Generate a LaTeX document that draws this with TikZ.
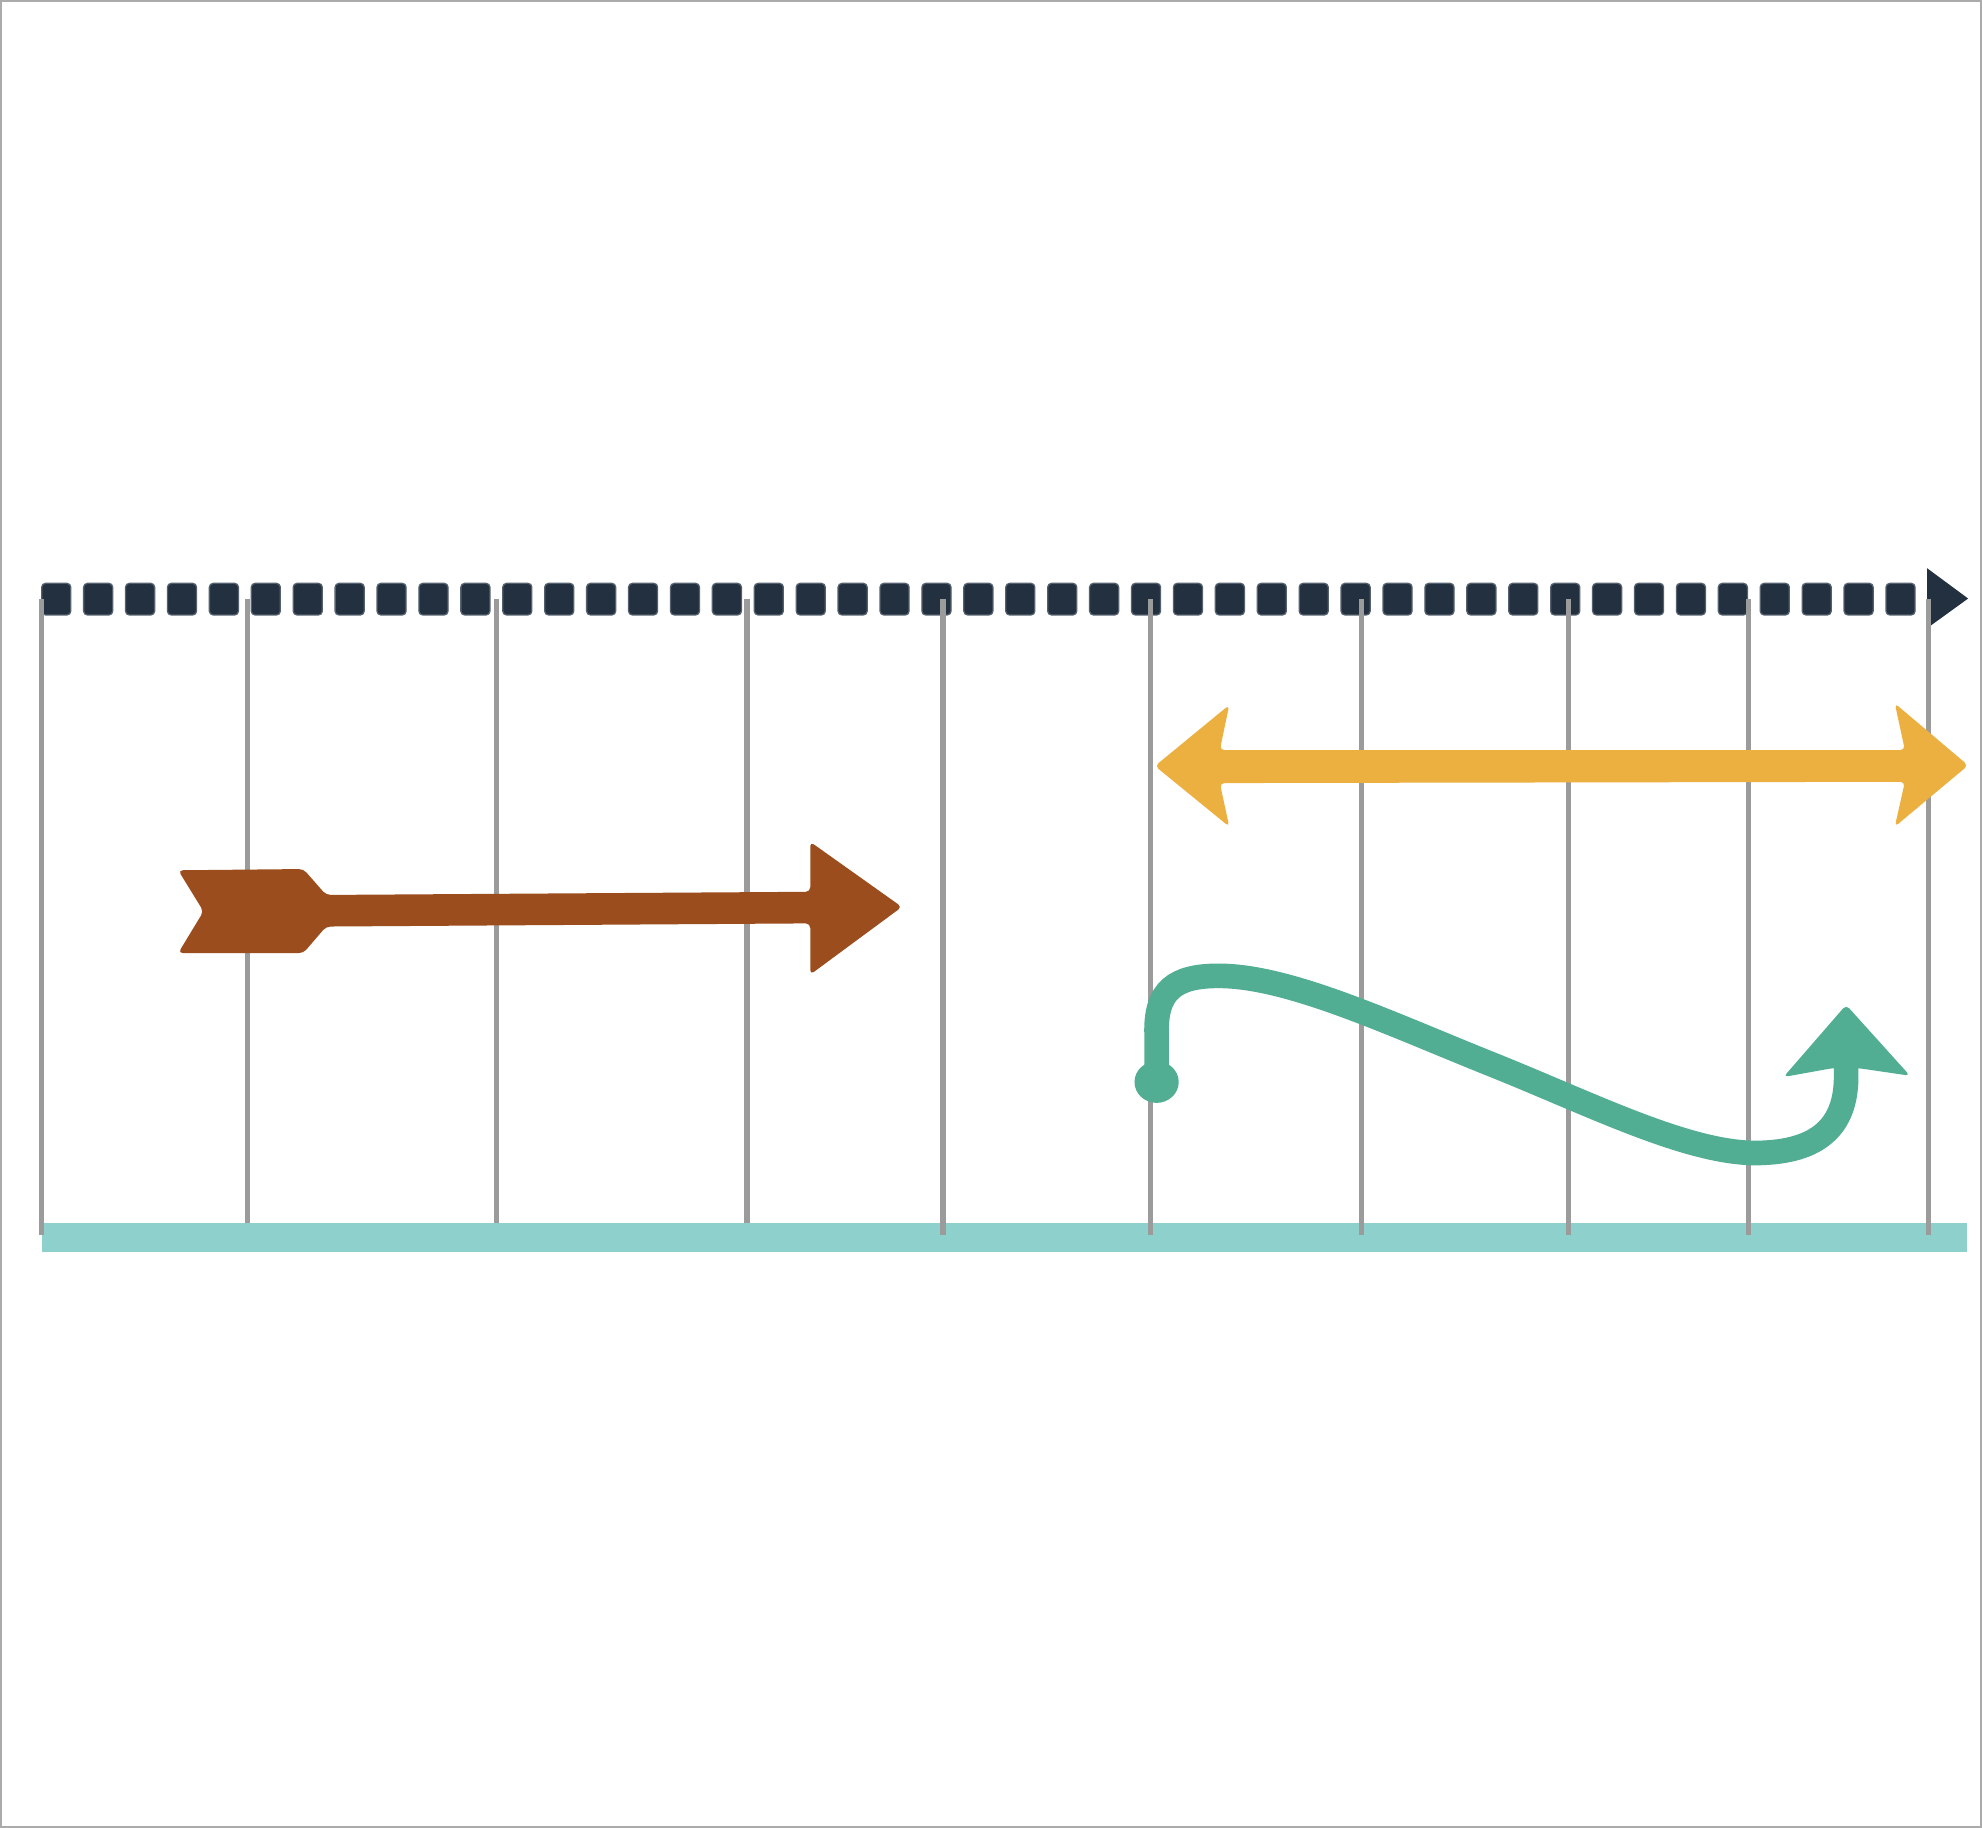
\documentclass[tikz,border=0pt]{standalone}
\definecolor{cNavy}{HTML}{22303F}
\definecolor{cNavyEdge}{HTML}{55616E}
\definecolor{cGrid}{HTML}{9B9B9B}
\definecolor{cFrame}{HTML}{ABABAB}
\definecolor{cBrown}{HTML}{9C4D1E}
\definecolor{cYellow}{HTML}{EBB040}
\definecolor{cTeal}{HTML}{52AE92}
\definecolor{cBar}{HTML}{8DD0CC}
\tikzset{
  gridline/.style={draw=cGrid, line width=4.2pt},
  dashsq/.style={fill=cNavy, draw=cNavyEdge, line width=1pt, rounded corners=3pt},
  shapefill/.style={rounded corners=3.5pt},
}
\begin{document}
\begin{tikzpicture}[x=1pt,y=-1pt]
\useasboundingbox (0,0) rectangle (1568,1446);
\fill[white] (0,0) rectangle (1568,1446);
\draw[cFrame, line width=1.6pt] (0.8,0.8) rectangle (1567.2,1445.2);

% dashed timeline
\foreach \i in {0,...,44} {
  \pgfmathsetmacro\xx{33+\i*33.16}
  \filldraw[dashsq] (\xx,461.5) rectangle ++(23,25);
}
\fill[cNavy] (1524.5,449.5) -- (1557,473.5) -- (1524.5,497) -- cycle;

% base bar
\fill[cBar] (33,967.5) rectangle (1556,990.5);

% grid lines
\foreach \x in {33,746,910,1077,1241,1383,1525.5} {
  \draw[gridline] (\x,474) -- (\x,977);
}
\foreach \x in {196,393,591} {
  \draw[gridline] (\x,474) -- (\x,967.5);
}

% brown arrow
\fill[cBrown, shapefill] (141,688.5) -- (240,687.5) -- (258,708) -- (641,705.5)
  -- (641,666) -- (713.5,717.5) -- (641,771) -- (641,730.5) -- (258,733)
  -- (240,754) -- (141,754) -- (161,721) -- cycle;

% yellow double arrow
\fill[cYellow, shapefill] (913.7,606) -- (972.5,557.7) -- (965,593.4) -- (1507,593.4)
  -- (1499,556.4) -- (1557,605.5) -- (1499,654) -- (1507,618.5) -- (965,619.5)
  -- (972.5,654) -- cycle;

% teal curve
\coordinate (tstart) at (915,856);
\coordinate (tend) at (1460.5,832);
\fill[cTeal] (tstart) ellipse [x radius=17.5, y radius=16.5];
\draw[cTeal, line width=19.5pt] (tstart) -- (915,818)
  .. controls (914,783) and (930,772) .. (964,772)
  .. controls (1020,772) and (1100,810) .. (1180,842)
  .. controls (1260,874) and (1340,915) .. (1395,912)
  .. controls (1442,910) and (1461,888) .. (1460.5,850) -- (tend);
\fill[cTeal, shapefill] (1460.5,795) -- (1511,851) -- (1470,845) -- (1450,845)
  -- (1411,852) -- cycle;
\end{tikzpicture}
\end{document}
